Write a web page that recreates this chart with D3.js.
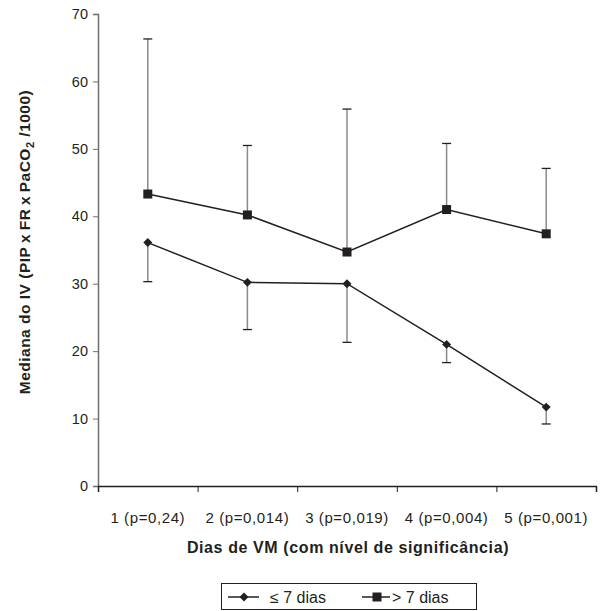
<!DOCTYPE html>
<html>
<head>
<meta charset="utf-8">
<script src="https://cdn.jsdelivr.net/npm/d3@7"></script>
<style>
  body { margin: 0; background: #fff; }
  text { font-family: "Liberation Sans", Arial, sans-serif; fill: #231f20; }
</style>
</head>
<body>
<div class="container"></div>
<script>
var categories = ['1 (p=0,24)', '2 (p=0,014)', '3 (p=0,019)', '4 (p=0,004)', '5 (p=0,001)'];
var shortValues = [36.1, 30.2, 30.0, 21.0, 11.7];
var shortLow = [30.3, 23.2, 21.3, 18.3, 9.2];
var longValues = [43.3, 40.2, 34.7, 41.0, 37.4];
var longHigh = [66.3, 50.5, 55.9, 50.8, 47.1];
var yTicks = [0, 10, 20, 30, 40, 50, 60, 70];

var ink = '#231f20';

var svg = d3.select('.container').append('svg').attr('width', 605).attr('height', 611);

var x = d3.scaleLinear().domain([0, categories.length]).range([98, 596]);
var y = d3.scaleLinear().domain([0, 70]).range([486, 14]);

// axes
var yAxis = svg.append('g').attr('transform', 'translate(98,0)')
	.call(d3.axisLeft(y).tickValues(yTicks).tickSize(5).tickPadding(5));
yAxis.select('.domain').attr('stroke', '#6d6e71').attr('stroke-width', 1.5);
yAxis.selectAll('.tick line').attr('stroke', '#6d6e71');
yAxis.selectAll('.tick text').attr('font-size', 14.5).style('font-family', '"Liberation Sans", Arial, sans-serif').attr('fill', ink);

var xAxis = svg.append('g').attr('transform', 'translate(0,486)')
	.call(d3.axisBottom(x).tickValues(d3.range(categories.length + 1)).tickSize(6).tickFormat(''));
xAxis.select('.domain').attr('stroke', '#231f20').attr('stroke-width', 1.5);
xAxis.selectAll('.tick line').attr('stroke', '#231f20');

svg.append('g').selectAll('text')
	.data(categories)
	.enter()
	.append('text')
	.attr('x', function(d, i){ return x(i + 0.5); })
	.attr('y', 523)
	.attr('text-anchor', 'middle')
	.attr('font-size', 15)
	.attr('letter-spacing', 0.6)
	.text(function(d){ return d; });

// titles
svg.append('text')
	.attr('x', 348).attr('y', 553)
	.attr('text-anchor', 'middle')
	.attr('font-size', 16)
	.attr('letter-spacing', 0.6)
	.attr('font-weight', 'bold')
	.text('Dias de VM (com nível de significância)');

var yt = svg.append('text')
	.attr('transform', 'translate(30,242) rotate(-90)')
	.attr('text-anchor', 'middle')
	.attr('font-size', 15.5)
	.attr('letter-spacing', 0.5)
	.attr('font-weight', 'bold');
yt.append('tspan').text('Mediana do IV (PIP\u2009x\u2009FR\u2009x\u2009PaCO');
yt.append('tspan').attr('font-size', 11).attr('dy', 4).text('2');
yt.append('tspan').attr('dy', -4).text(' /1000)');

// error bars
function errBars(vals, ends) {
	var g = svg.append('g');
	g.selectAll('line.v')
		.data(vals)
		.enter()
		.append('line')
		.attr('class', 'v')
		.attr('x1', function(d, i){ return x(i + 0.5); })
		.attr('x2', function(d, i){ return x(i + 0.5); })
		.attr('y1', function(d){ return y(d); })
		.attr('y2', function(d, i){ return y(ends[i]); })
		.attr('stroke', '#8a8a8a')
		.attr('stroke-width', 1.5);
	g.selectAll('line.c')
		.data(ends)
		.enter()
		.append('line')
		.attr('class', 'c')
		.attr('x1', function(d, i){ return x(i + 0.5) - 4.5; })
		.attr('x2', function(d, i){ return x(i + 0.5) + 4.5; })
		.attr('y1', function(d){ return y(d); })
		.attr('y2', function(d){ return y(d); })
		.attr('stroke', ink)
		.attr('stroke-width', 1.3);
}
errBars(shortValues, shortLow);
errBars(longValues, longHigh);

// lines
var line = d3.line()
	.x(function(d, i){ return x(i + 0.5); })
	.y(function(d){ return y(d); });

svg.append('path').datum(shortValues).attr('d', line)
	.attr('fill', 'none').attr('stroke', ink).attr('stroke-width', 1.5);
svg.append('path').datum(longValues).attr('d', line)
	.attr('fill', 'none').attr('stroke', ink).attr('stroke-width', 1.5);

var diamond = d3.symbol().type(d3.symbolSquare).size(40);
svg.append('g').selectAll('path')
	.data(shortValues)
	.enter()
	.append('path')
	.attr('d', diamond)
	.attr('transform', function(d, i){ return 'translate(' + x(i + 0.5) + ',' + y(d) + ') rotate(45)'; })
	.attr('fill', ink);

svg.append('g').selectAll('rect')
	.data(longValues)
	.enter()
	.append('rect')
	.attr('x', function(d, i){ return x(i + 0.5) - 4.5; })
	.attr('y', function(d){ return y(d) - 4.5; })
	.attr('width', 9)
	.attr('height', 9)
	.attr('fill', ink);

// legend
var leg = svg.append('g');
leg.append('rect').attr('x', 221.5).attr('y', 583.5).attr('width', 255).attr('height', 26)
	.attr('fill', 'none').attr('stroke', '#231f20').attr('stroke-width', 1);
leg.append('line').attr('x1', 228).attr('x2', 259).attr('y1', 597).attr('y2', 597).attr('stroke', ink).attr('stroke-width', 1.5);
leg.append('path').attr('d', diamond).attr('transform', 'translate(244,597) rotate(45)').attr('fill', ink);
leg.append('text').attr('x', 270).attr('y', 603).attr('font-size', 16).text('≤ 7 dias');
leg.append('line').attr('x1', 362).attr('x2', 390).attr('y1', 597).attr('y2', 597).attr('stroke', ink).attr('stroke-width', 1.5);
leg.append('rect').attr('x', 372.5).attr('y', 592.5).attr('width', 9).attr('height', 9).attr('fill', ink);
leg.append('text').attr('x', 392).attr('y', 603).attr('font-size', 16).text('> 7 dias');
</script>
</body>
</html>
